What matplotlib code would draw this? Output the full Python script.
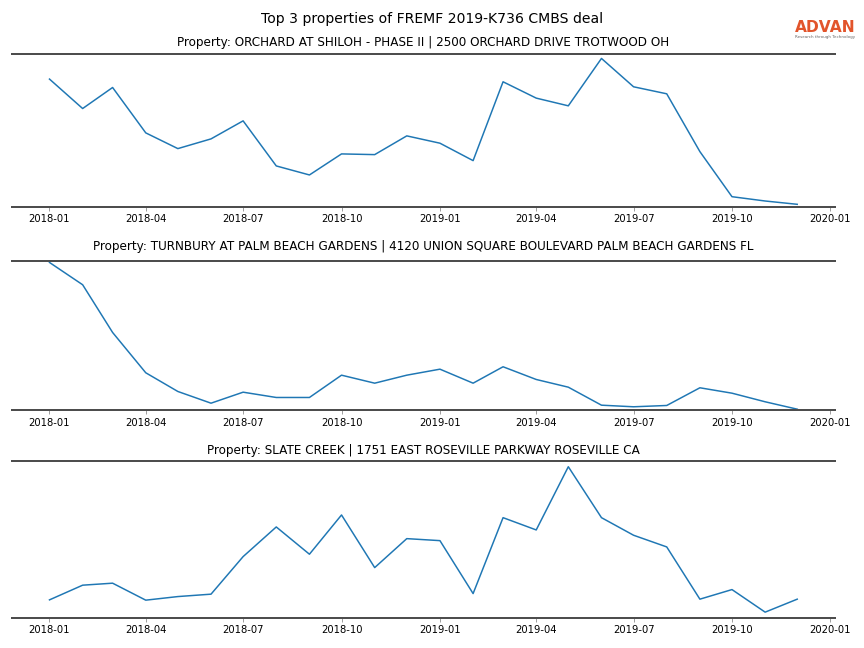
import numpy as np
import pandas as pd
import matplotlib
matplotlib.use("Agg")
import matplotlib.pyplot as plt
import matplotlib.dates as mdates

months = pd.date_range("2018-01-01", "2019-12-01", freq="MS")

orchard = [127.4, 98.0, 119.0, 73.7, 58.0, 67.7, 85.7, 40.7, 31.7, 52.7, 52.0, 70.7,
           63.4, 46.0, 124.7, 108.4, 100.7, 148.0, 119.7, 112.7, 55.0, 10.0, 5.7, 2.4]
turnbury = [147.7, 125.4, 77.7, 37.4, 18.7, 7.0, 18.0, 12.7, 12.7, 35.0, 27.0, 35.0,
            41.0, 27.0, 43.4, 30.7, 23.0, 5.0, 3.4, 4.7, 22.4, 17.0, 8.4, 1.0]
slate = [17.7, 32.4, 34.4, 17.4, 21.0, 23.4, 61.0, 90.7, 63.4, 102.7, 50.0, 79.0,
         77.0, 24.0, 100.0, 87.7, 151.0, 100.0, 82.4, 70.7, 18.4, 28.0, 5.4, 18.4]

titles = [
    "Property: ORCHARD AT SHILOH - PHASE II | 2500 ORCHARD DRIVE TROTWOOD OH",
    "Property: TURNBURY AT PALM BEACH GARDENS | 4120 UNION SQUARE BOULEVARD PALM BEACH GARDENS FL",
    "Property: SLATE CREEK | 1751 EAST ROSEVILLE PARKWAY ROSEVILLE CA",
]
series = [orchard, turnbury, slate]
ylims = [(0, 152), (0, 149), (0, 157)]
title_pads = [8, 11, 7]

fig = plt.figure(figsize=(12, 9), dpi=72)
fig.suptitle("Top 3 properties of FREMF 2019-K736 CMBS deal", fontsize=14, y=0.981)

# axes boxes [left, bottom, width, height] in figure fraction
boxes = [
    [0.014, 0.681, 0.952, 0.235],
    [0.014, 0.367, 0.952, 0.230],
    [0.014, 0.047, 0.952, 0.242],
]

for box, vals, title, yl, pad in zip(boxes, series, titles, ylims, title_pads):
    ax = fig.add_axes(box)
    ax.plot(months, vals, color="#1f77b4", linewidth=1.5)
    ax.set_ylim(*yl)
    ax.set_title(title, fontsize=12, pad=pad)
    ax.set_yticks([])
    for side in ["left", "right"]:
        ax.spines[side].set_visible(False)
    for side in ["top", "bottom"]:
        ax.spines[side].set_color("#4d4d4d")
        ax.spines[side].set_linewidth(2)
    ax.xaxis.set_major_locator(mdates.MonthLocator(bymonth=[1, 4, 7, 10]))
    ax.xaxis.set_major_formatter(mdates.DateFormatter("%Y-%m"))
    ax.tick_params(axis="x", labelsize=10, color="#888888", length=4)

# logo
fig.text(0.990, 0.958, "ADVAN", color="#e2542b", fontsize=15.5, ha="right", va="center",
         fontweight="bold")
fig.text(0.990, 0.943, "Research through Technology", color="#666666", fontsize=4,
         ha="right", va="center")

fig.savefig("out.png", dpi=72)
